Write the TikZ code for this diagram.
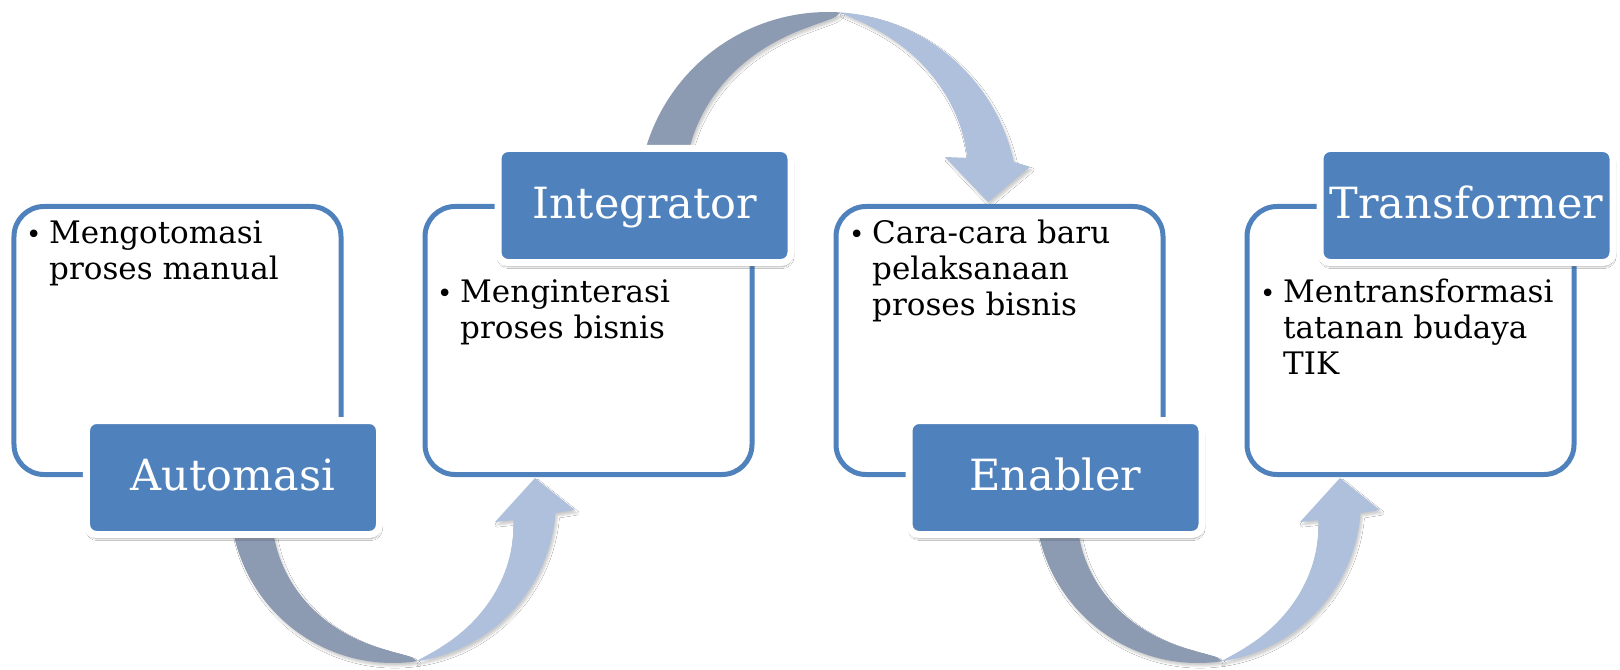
\documentclass[tikz,border=0pt]{standalone}
\usepackage{fontspec}
\setmainfont{DejaVu Serif}
\usetikzlibrary{shadows.blur}
\definecolor{accent}{RGB}{79,129,189}
\definecolor{ribdark}{RGB}{141,155,178}
\definecolor{riblight}{RGB}{175,192,220}
\begin{document}
\begin{tikzpicture}[x=1bp,y=-1bp,
  stagebox/.style={draw=accent, line width=5bp, fill=white, rounded corners=30bp,
    minimum width=327bp, minimum height=268bp, inner sep=0pt},
  tag/.style={fill=accent, draw=white, line width=7bp, rounded corners=10bp,
    minimum width=293bp, minimum height=114bp, inner sep=0pt, text=white,
    font=\fontsize{43bp}{50bp}\selectfont, text height=32bp, text depth=7bp,
    blur shadow={shadow xshift=1bp, shadow yshift=-4bp, shadow blur steps=6, shadow opacity=35}},
  itemtext/.style={anchor=north west, inner sep=0pt, align=left,
    font=\fontsize{31bp}{36bp}\selectfont},
  bulletmark/.style={anchor=base west, inner sep=0pt, font=\fontsize{26bp}{36bp}\selectfont},
  darkpart/.style={fill=ribdark, blur shadow={shadow xshift=2bp, shadow yshift=-3bp, shadow blur steps=5, shadow opacity=20}},
  lightpart/.style={fill=riblight, blur shadow={shadow xshift=2bp, shadow yshift=-3bp, shadow blur steps=5, shadow opacity=20}},
]
\useasboundingbox (0,0) rectangle (1620,670);
\fill[white] (0,0) rectangle (1620,670);

% lower ribbon arrows (Automasi -> Integrator, Enabler -> Transformer)
\foreach \sx in {0,805}{
\begin{scope}[xshift=\sx bp]
\fill[darkpart] plot[domain=172:81.5, samples=60, variable=\t]
   ({393+163*cos(\t)},{500+163*sin(\t)})
 -- plot[domain=81.5:172, samples=60, variable=\t]
   ({393+(163-38*(abs(\t-81.5)/79.5+0.0001)^0.55)*cos(\t)},{500+(163-38*(abs(\t-81.5)/79.5+0.0001)^0.55)*sin(\t)})
 -- cycle;
\fill[lightpart] plot[domain=81.5:9.5, samples=60, variable=\t]
   ({393+(163-41*(abs(81.5-\t)/72+0.0001)^0.8)*cos(\t)},{500+(163-41*(abs(81.5-\t)/72+0.0001)^0.8)*sin(\t)})
 -- (495,522) -- (535,478) -- (575,510)
 -- plot[domain=4.6:81.5, samples=60, variable=\t]
   ({393+163*cos(\t)},{500+163*sin(\t)})
 -- cycle;
\end{scope}
}

% upper ribbon arrow (Integrator -> Enabler)
\fill[darkpart] plot[domain=168:86.3, samples=60, variable=\t]
   ({828+190*cos(\t)},{202-190*sin(\t)})
 -- plot[domain=86.3:168, samples=60, variable=\t]
   ({828+(190-42*(abs(\t-86.3)/74.7+0.0001)^0.55)*cos(\t)},{202-(190-42*(abs(\t-86.3)/74.7+0.0001)^0.55)*sin(\t)})
 -- cycle;
\fill[lightpart] plot[domain=86.3:17.6, samples=60, variable=\t]
   ({828+(190-44*(abs(86.3-\t)/68.7+0.0001)^0.8)*cos(\t)},{202-(190-44*(abs(86.3-\t)/68.7+0.0001)^0.8)*sin(\t)})
 -- (945,157) -- (988,202) -- (1030,167)
 -- plot[domain=12.2:86.3, samples=60, variable=\t]
   ({828+190*cos(\t)},{202-190*sin(\t)})
 -- cycle;

% content boxes
\node[stagebox] (b1) at (177.5,340.5) {};
\node[stagebox] (b2) at (588.5,340.5) {};
\node[stagebox] (b3) at (999.5,340.5) {};
\node[stagebox] (b4) at (1410.5,340.5) {};

% bullet texts
\node[bulletmark] (m1) at (26,243) {•};
\node[itemtext] (x1) at (49,217.8) {\strut Mengotomasi\\proses manual};
\node[bulletmark] (m2) at (437,302) {•};
\node[itemtext] (x2) at (460,276.8) {\strut Menginterasi\\proses bisnis};
\node[bulletmark] (m3) at (849,243) {•};
\node[itemtext] (x3) at (872,217.8) {\strut Cara-cara baru\\pelaksanaan\\proses bisnis};
\node[bulletmark] (m4) at (1260,302) {•};
\node[itemtext] (x4) at (1283,276.8) {\strut Mentransformasi\\tatanan budaya\\TIK};

% stage labels
\node[tag] (t1) at (233,477.5) {Automasi};
\node[tag] (t2) at (644.5,205.5) {Integrator};
\node[tag] (t3) at (1055.5,477.5) {Enabler};
\node[tag] (t4) at (1466.5,205.5) {Transformer};
\end{tikzpicture}
\end{document}
